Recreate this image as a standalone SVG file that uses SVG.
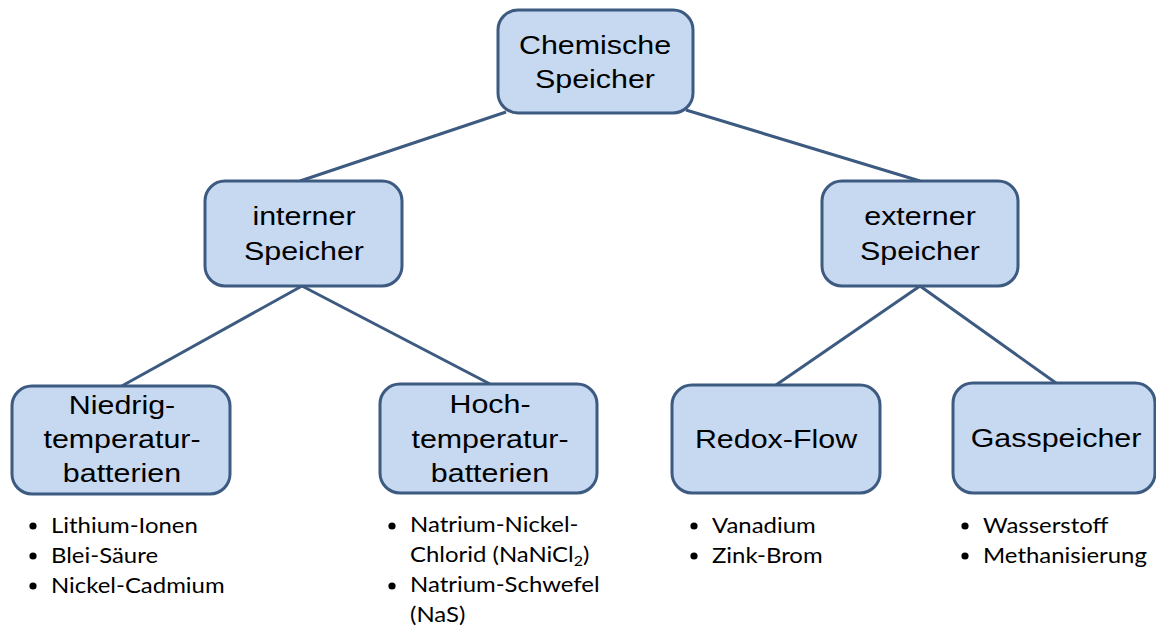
<svg xmlns="http://www.w3.org/2000/svg" width="1156" height="627" viewBox="0 0 1156 627">
<style>
.box{fill:#c6d9f1;stroke:#3d5a80;stroke-width:3}
.lbl{font-family:"Liberation Sans",Arial,sans-serif;font-size:26px;fill:#000;text-anchor:middle}
.li{font-family:Lato,"Open Sans",sans-serif;font-size:21px;fill:#000}
.dot{fill:#000}
.con line{stroke:#3d5a80;stroke-width:3}
</style>
<rect width="1156" height="627" fill="#fff"/>
<g class="con">
<line x1="506" y1="112" x2="300" y2="181"/>
<line x1="686" y1="110" x2="920" y2="181"/>
<line x1="302" y1="286" x2="120" y2="387"/>
<line x1="302" y1="286" x2="490" y2="384"/>
<line x1="920" y1="286" x2="776" y2="385"/>
<line x1="920" y1="286" x2="1056" y2="383"/>
</g>
<g id="chemische">
<rect class="box" x="498" y="10" width="195" height="103" rx="20"/>
<text class="lbl" transform="translate(595,54) scale(1.17,1)">Chemische</text>
<text class="lbl" transform="translate(595,88) scale(1.17,1)">Speicher</text>
</g>
<g id="interner">
<rect class="box" x="205" y="181" width="197" height="105" rx="20"/>
<text class="lbl" transform="translate(304,225) scale(1.17,1)">interner</text>
<text class="lbl" transform="translate(304,260) scale(1.17,1)">Speicher</text>
</g>
<g id="externer">
<rect class="box" x="822" y="181" width="196" height="105" rx="20"/>
<text class="lbl" transform="translate(920,225) scale(1.17,1)">externer</text>
<text class="lbl" transform="translate(920,260) scale(1.17,1)">Speicher</text>
</g>
<g id="niedrig">
<rect class="box" x="12" y="386" width="218" height="108" rx="20"/>
<text class="lbl" transform="translate(122,414) scale(1.17,1)">Niedrig-</text>
<text class="lbl" transform="translate(122,448) scale(1.17,1)">temperatur-</text>
<text class="lbl" transform="translate(122,482) scale(1.17,1)">batterien</text>
<circle class="dot" cx="33" cy="526" r="3.6"/>
<circle class="dot" cx="33" cy="556" r="3.6"/>
<circle class="dot" cx="33" cy="586" r="3.6"/>
<text class="li" transform="translate(51,533) scale(1.14,1)">Lithium-Ionen</text>
<text class="li" transform="translate(51,563) scale(1.14,1)">Blei-Säure</text>
<text class="li" transform="translate(51,593) scale(1.14,1)">Nickel-Cadmium</text>
</g>
<g id="hoch">
<rect class="box" x="380" y="384" width="217" height="109" rx="20"/>
<text class="lbl" transform="translate(490,413) scale(1.17,1)">Hoch-</text>
<text class="lbl" transform="translate(490,448) scale(1.17,1)">temperatur-</text>
<text class="lbl" transform="translate(490,482) scale(1.17,1)">batterien</text>
<circle class="dot" cx="392" cy="526" r="3.6"/>
<circle class="dot" cx="392" cy="586" r="3.6"/>
<text class="li" transform="translate(410,532) scale(1.14,1)">Natrium-Nickel-</text>
<text class="li" transform="translate(410,562) scale(1.14,1)">Chlorid (NaNiCl<tspan font-size="14" dy="4">2</tspan><tspan dy="-4">)</tspan></text>
<text class="li" transform="translate(410,592) scale(1.14,1)">Natrium-Schwefel</text>
<text class="li" transform="translate(410,622) scale(1.14,1)">(NaS)</text>
</g>
<g id="redox">
<rect class="box" x="672" y="385" width="208" height="108" rx="20"/>
<text class="lbl" transform="translate(776,448) scale(1.17,1)">Redox-Flow</text>
<circle class="dot" cx="694" cy="526" r="3.6"/>
<circle class="dot" cx="694" cy="556" r="3.6"/>
<text class="li" transform="translate(712,533) scale(1.14,1)">Vanadium</text>
<text class="li" transform="translate(712,563) scale(1.14,1)">Zink-Brom</text>
</g>
<g id="gas">
<rect class="box" x="953" y="383" width="202" height="110" rx="20"/>
<text class="lbl" transform="translate(1056,447) scale(1.17,1)">Gasspeicher</text>
<circle class="dot" cx="965" cy="526" r="3.6"/>
<circle class="dot" cx="965" cy="556" r="3.6"/>
<text class="li" transform="translate(983,533) scale(1.14,1)">Wasserstoff</text>
<text class="li" transform="translate(983,563) scale(1.14,1)">Methanisierung</text>
</g>
</svg>
